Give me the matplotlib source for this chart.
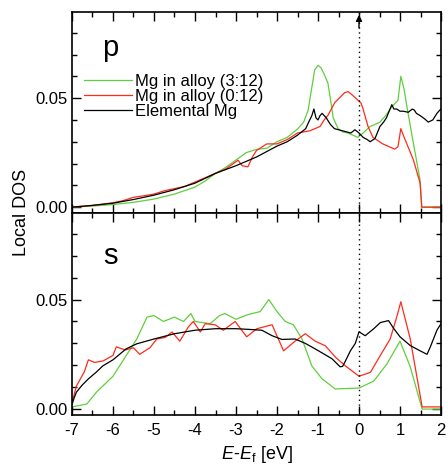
import numpy as np
import matplotlib
matplotlib.use("Agg")
import matplotlib.pyplot as plt
from matplotlib.ticker import MultipleLocator

plt.rcParams['font.family'] = ['Liberation Sans', 'DejaVu Sans']
plt.rcParams['mathtext.fontset'] = 'custom'
plt.rcParams['mathtext.rm'] = 'Liberation Sans'
plt.rcParams['mathtext.it'] = 'Liberation Sans:italic'

# p-states, upper panel
p_green_E = [-7, -6.5, -6, -5.5, -5, -4.5, -4, -3.75, -3.5, -3.27, -3.0, -2.75, -2.5, -2.25, -2.0,
             -1.75, -1.49, -1.35, -1.24, -1.15, -1.08, -1.0, -0.93, -0.85, -0.76, -0.7, -0.63, -0.51,
             -0.4, -0.27, -0.15, -0.03, 0.1, 0.27, 0.4, 0.51, 0.65, 0.8, 0.95, 1.02, 1.1, 1.17, 1.3,
             1.49, 1.53, 1.6, 2.0]
p_green = [0, 0.0005, 0.0012, 0.0022, 0.0037, 0.006, 0.0092, 0.012, 0.0155, 0.018, 0.0216, 0.025,
           0.0265, 0.027, 0.030, 0.032, 0.036, 0.039, 0.0445, 0.055, 0.063, 0.065, 0.064, 0.061, 0.057,
           0.050, 0.041, 0.036, 0.0345, 0.034, 0.033, 0.032, 0.034, 0.037, 0.038, 0.039, 0.042, 0.046,
           0.049, 0.060, 0.054, 0.046, 0.032, 0.0124, 0.0, 0.0, 0.0]

p_red_E = [-7, -6.5, -6, -5.75, -5.5, -5.25, -5, -4.75, -4.5, -4.25, -4, -3.75, -3.5, -3.25, -2.95,
           -2.85, -2.71, -2.6, -2.5, -2.25, -2.0, -1.75, -1.5, -1.2, -0.95, -0.85, -0.76, -0.59, -0.43,
           -0.35, -0.27, -0.2, -0.11, 0.05, 0.1, 0.22, 0.34, 0.58, 0.87, 0.95, 1.02, 1.08, 1.33, 1.49,
           1.53, 2.0]
p_red = [0, 0.0008, 0.002, 0.003, 0.0045, 0.0052, 0.006, 0.0075, 0.0085, 0.0095, 0.0115, 0.0135,
         0.0155, 0.0175, 0.0215, 0.019, 0.0185, 0.023, 0.026, 0.029, 0.029, 0.031, 0.034, 0.035, 0.037,
         0.040, 0.042, 0.048, 0.051, 0.0525, 0.053, 0.052, 0.0505, 0.0477, 0.045, 0.037, 0.032, 0.029,
         0.0266, 0.0277, 0.036, 0.033, 0.0215, 0.011, 0.0, 0.0]

p_black_E = [-7, -6.5, -6, -5.5, -5, -4.5, -4, -3.5, -3, -2.5, -2, -1.75, -1.5, -1.3, -1.24, -1.15,
             -1.1, -1.05, -1.0, -0.95, -0.9, -0.8, -0.7, -0.6, -0.5, -0.4, -0.3, -0.2, -0.1, 0, 0.1,
             0.2, 0.27, 0.39, 0.51, 0.6, 0.67, 0.8, 0.85, 0.92, 1.0, 1.08, 1.2, 1.3, 1.35, 1.4, 1.49,
             1.6, 1.69, 1.8, 1.9, 1.97, 2.0]
p_black = [0, 0.0008, 0.0018, 0.0035, 0.0055, 0.008, 0.011, 0.0155, 0.019, 0.023, 0.028, 0.030, 0.033,
           0.036, 0.0385, 0.042, 0.045, 0.041, 0.040, 0.042, 0.043, 0.041, 0.038, 0.036, 0.0355, 0.035,
           0.0345, 0.034, 0.0355, 0.034, 0.032, 0.031, 0.030, 0.0315, 0.037, 0.039, 0.041, 0.047, 0.045,
           0.045, 0.044, 0.044, 0.0435, 0.045, 0.0445, 0.043, 0.042, 0.0405, 0.039, 0.040, 0.043,
           0.0445, 0.045]

# s-states, lower panel
s_green_E = [-7, -6.64, -6.4, -6, -5.7, -5.42, -5.17, -5, -4.77, -4.5, -4.28, -4.1, -4, -3.63, -3.4,
             -3.27, -3, -2.7, -2.41, -2.2, -2, -1.8, -1.6, -1.39, -1.15, -0.9, -0.58, 0, 0.36, 0.68,
             1.0, 1.25, 1.54, 2.0]
s_green = [0.001, 0.0023, 0.0078, 0.015, 0.0238, 0.032, 0.042, 0.0427, 0.040, 0.042, 0.040, 0.0436,
           0.040, 0.039, 0.0427, 0.0436, 0.041, 0.0432, 0.0445, 0.050, 0.0445, 0.040, 0.0385, 0.032,
           0.0197, 0.0138, 0.0092, 0.0096, 0.0128, 0.0206, 0.031, 0.0193, 0.0, 0.0]

s_red_E = [-7, -6.89, -6.7, -6.6, -6.45, -6.24, -6, -5.92, -5.7, -5.5, -5.35, -5.1, -4.93, -4.73,
           -4.56, -4.37, -4.16, -4.04, -3.87, -3.75, -3.51, -3.31, -3.02, -2.74, -2.49, -2.12, -1.84,
           -1.56, -1.31, -1.07, -0.82, -0.58, -0.33, 0, 0.28, 0.52, 0.76, 0.93, 1.02, 1.25, 1.54, 2.0]
s_red = [0.003, 0.0106, 0.017, 0.0225, 0.0213, 0.022, 0.0245, 0.0284, 0.027, 0.028, 0.025, 0.028,
         0.032, 0.0327, 0.0352, 0.031, 0.0376, 0.040, 0.0352, 0.039, 0.0385, 0.036, 0.040, 0.033,
         0.0367, 0.0385, 0.0266, 0.031, 0.0344, 0.031, 0.0289, 0.0238, 0.0197, 0.015, 0.0168, 0.0245,
         0.032, 0.0427, 0.049, 0.032, 0.001, 0.001]

s_black_E = [-7, -6.95, -6.89, -6.75, -6.6, -6.4, -6.25, -6, -5.68, -5.42, -5, -4.5, -4, -3.5, -3.0,
             -2.7, -2.37, -2.12, -1.88, -1.56, -1.31, -1.07, -0.86, -0.66, -0.46, -0.4, -0.33, -0.21,
             -0.09, 0, 0.15, 0.36, 0.52, 0.72, 0.85, 1.0, 1.25, 1.49, 1.66, 1.74, 1.9, 2.0]
s_black = [0.002, 0.005, 0.0078, 0.011, 0.0138, 0.017, 0.0197, 0.0225, 0.0275, 0.0298, 0.032, 0.0344,
           0.036, 0.0367, 0.0367, 0.0364, 0.036, 0.0335, 0.0318, 0.032, 0.030, 0.0275, 0.0252, 0.023,
           0.0193, 0.0195, 0.022, 0.0266, 0.030, 0.0353, 0.0335, 0.0367, 0.0395, 0.0404, 0.0367, 0.033,
           0.029, 0.0266, 0.025, 0.0284, 0.036, 0.039]

labels = ["Mg in alloy (3:12)", "Mg in alloy (0:12)", "Elemental Mg"]
green = "#5fcf3c"
red = "#ff2a1a"

fig = plt.figure(figsize=(4.48, 4.69), dpi=100)
ax1 = fig.add_axes([0.1607, 0.5458, 0.8237, 0.4286])
ax2 = fig.add_axes([0.1607, 0.1151, 0.8237, 0.4307])

ax1.plot(p_green_E, p_green, color=green, lw=0.9, label=labels[0])
ax1.plot(p_red_E, p_red, color=red, lw=0.9, label=labels[1])
ax1.plot(p_black_E, p_black, color="k", lw=0.9, label=labels[2])

ax2.plot(s_green_E, s_green, color=green, lw=0.9)
ax2.plot(s_red_E, s_red, color=red, lw=0.9)
ax2.plot(s_black_E, s_black, color="k", lw=0.9)

for ax in (ax1, ax2):
    ax.set_xlim(-7, 2)
    ax.set_ylim(-0.0027, 0.0895)
    ax.axvline(0, color="k", ls=(0, (1, 2.5)), lw=1)
    ax.xaxis.set_major_locator(MultipleLocator(1))
    ax.xaxis.set_minor_locator(MultipleLocator(0.5))
    ax.yaxis.set_major_locator(MultipleLocator(0.05))
    ax.yaxis.set_minor_locator(MultipleLocator(0.01))
    ax.tick_params(which="both", direction="in", top=True, right=True, labelsize=12, width=1)
    ax.tick_params(which="major", length=6.5)
    ax.tick_params(which="minor", length=3.5)
    ax.yaxis.set_major_formatter(matplotlib.ticker.FormatStrFormatter("%.2f"))
    for sp in ax.spines.values():
        sp.set_linewidth(1.2)

ax1.tick_params(labelbottom=False)
ax2.tick_params(axis="x", which="major", pad=6)
ax2.set_xticks(range(-7, 3))
ax2.set_xticklabels([str(v) for v in range(-7, 3)])

ax1.annotate("", xy=(0, 0.0895), xytext=(0, 0.081),
             arrowprops=dict(arrowstyle="-|>", color="k", lw=1, mutation_scale=9))

ax1.text(0.081, 0.78, "p", transform=ax1.transAxes, fontsize=21, va="baseline")
ax2.text(0.084, 0.748, "s", transform=ax2.transAxes, fontsize=21, va="baseline")

ax1.legend(loc="upper left", bbox_to_anchor=(0.0, 0.75), frameon=False, fontsize=12,
           handlelength=2.9, handletextpad=0.2, labelspacing=0.0, borderpad=0.2)

fig.text(0.049, 0.546, "Local DOS", rotation=90, ha="center", va="center", fontsize=13)
ax2.set_xlabel(r"$E$-$E_{\rm f}$ [eV]", fontsize=13, labelpad=4)

fig.savefig("out.png", dpi=100)
